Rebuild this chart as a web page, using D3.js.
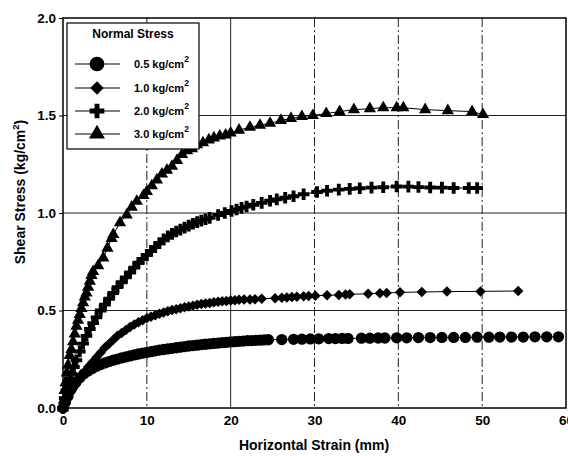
<!DOCTYPE html>
<html>
<head>
<meta charset="utf-8">
<script src="https://cdn.jsdelivr.net/npm/d3@7"></script>
<style>
  body { margin: 0; background: #fff; }
  svg text { font-family: "Liberation Sans", Arial, sans-serif; font-weight: bold; fill: #000; }
</style>
</head>
<body>
<div id="chart"></div>
<script>
// normal stress levels (legend)
var labels = ["0.5", "1.0", "2.0", "3.0"];
var xTicks = [0, 10, 20, 30, 40, 50, 60];
var yTicks = [0, 0.5, 1.0, 1.5, 2.0];

// [horizontal strain (mm), shear stress (kg/cm2)]
var s05 = [[0,0],[0.3,0.03],[0.6,0.06],[1,0.1],[1.5,0.13],[2,0.155],[2.5,0.175],[3,0.19],[3.5,0.203],[4,0.214],
  [4.5,0.223],[5,0.231],[5.5,0.238],[6,0.245],[6.5,0.251],[7,0.257],[7.5,0.262],[8,0.267],[8.5,0.272],[9,0.277],
  [9.5,0.281],[10,0.285],[10.5,0.289],[11,0.293],[11.5,0.297],[12,0.3],[12.5,0.303],[13,0.306],[13.5,0.309],[14,0.312],
  [14.5,0.315],[15,0.318],[15.5,0.32],[16,0.322],[16.5,0.325],[17,0.327],[17.5,0.329],[18,0.331],[18.5,0.333],[19,0.335],
  [19.5,0.337],[20,0.339],[20.5,0.34],[21,0.342],[21.5,0.343],[22,0.345],[22.5,0.346],[23,0.347],[23.5,0.348],[24,0.349],
  [24.5,0.35],[26.1,0.351],[27.5,0.352],[28.5,0.353],[29.5,0.354],[30.5,0.355],[31.7,0.356],[32.5,0.356],[33.3,0.357],
  [34,0.357],[35.6,0.358],[36.6,0.358],[37.6,0.359],[38.4,0.359],[39.8,0.36],[41,0.36],[42.4,0.361],[43.8,0.361],
  [45.2,0.362],[46.6,0.362],[48,0.362],[49.4,0.363],[50.8,0.363],[52.1,0.364],[53.5,0.364],[54.9,0.364],[56.3,0.365],
  [57.7,0.365],[59.1,0.365]];

var s10 = [[0,0],[0.3,0.03],[0.6,0.055],[0.9,0.08],[1.2,0.1],[1.6,0.125],[2,0.15],[2.5,0.18],[3,0.21],[3.5,0.235],
  [4,0.26],[4.5,0.285],[5,0.31],[5.5,0.33],[6,0.35],[6.5,0.37],[7,0.385],[7.5,0.4],[8,0.415],[8.5,0.428],[9,0.44],
  [9.5,0.45],[10,0.46],[10.5,0.468],[11,0.476],[11.5,0.483],[12,0.49],[12.5,0.496],[13,0.502],[13.5,0.507],[14,0.512],
  [14.5,0.517],[15,0.521],[15.5,0.525],[16,0.529],[16.5,0.533],[17,0.536],[17.5,0.539],[18,0.542],[18.5,0.545],
  [19,0.547],[19.5,0.549],[20,0.551],[20.5,0.553],[21,0.555],[21.6,0.556],[22.3,0.557],[22.9,0.558],[23.7,0.56],
  [25.3,0.563],[26.1,0.565],[26.7,0.567],[27.3,0.569],[27.9,0.571],[28.7,0.573],[29.3,0.574],[30.1,0.576],[31.5,0.578],
  [32.9,0.58],[33.7,0.582],[34.2,0.583],[36.4,0.586],[37.8,0.588],[38.6,0.59],[40.2,0.593],[42.8,0.595],[45.8,0.597],
  [49.8,0.598],[54.3,0.6]];

var s20 = [[0,0],[0.2,0.05],[0.4,0.09],[0.6,0.12],[0.8,0.15],[1,0.175],[1.3,0.21],[1.6,0.245],[2,0.29],[2.4,0.33],
  [2.8,0.37],[3.2,0.405],[3.6,0.435],[4,0.465],[4.5,0.5],[5,0.53],[5.5,0.56],[6,0.59],[6.5,0.62],[7,0.645],[7.5,0.67],
  [8,0.695],[8.5,0.72],[9,0.745],[9.5,0.765],[10,0.785],[10.5,0.805],[11,0.825],[11.5,0.845],[12,0.865],[12.5,0.88],
  [13,0.893],[13.5,0.905],[14,0.915],[14.5,0.925],[15,0.935],[15.5,0.945],[16,0.953],[16.5,0.961],[17,0.968],
  [17.5,0.975],[18.5,0.99],[19.3,1.0],[20.1,1.01],[20.7,1.018],[21.3,1.026],[21.9,1.033],[22.7,1.042],[23.7,1.052],
  [24.7,1.063],[25.5,1.07],[26.5,1.078],[27.5,1.086],[28.7,1.096],[30.3,1.108],[31.5,1.114],[32.9,1.12],[34.2,1.124],
  [35.4,1.127],[36.8,1.13],[38.2,1.132],[39.8,1.136],[41.2,1.135],[42.4,1.133],[43.8,1.131],[45.2,1.13],[46.6,1.128],
  [48.4,1.128],[49.4,1.128]];

var s30 = [[0,0],[0.1,0.04],[0.2,0.09],[0.3,0.13],[0.45,0.18],[0.6,0.22],[0.8,0.27],[1,0.3],[1.2,0.34],[1.4,0.38],
  [1.6,0.42],[1.8,0.45],[2,0.48],[2.2,0.51],[2.4,0.54],[2.6,0.57],[2.8,0.59],[3,0.62],[3.2,0.65],[3.4,0.68],[3.6,0.7],
  [4.2,0.73],[4.8,0.77],[5.3,0.82],[5.8,0.87],[6,0.89],[6.8,0.95],[7.6,0.99],[8.2,1.03],[8.8,1.06],[9.6,1.09],[10,1.11],
  [10.6,1.14],[11.2,1.17],[11.8,1.2],[12.4,1.22],[13,1.24],[13.6,1.27],[14.2,1.3],[14.8,1.32],[15.4,1.33],[16,1.35],
  [16.7,1.36],[17.4,1.375],[18,1.385],[18.7,1.395],[19.4,1.4],[20,1.41],[21,1.425],[22.3,1.44],[23.5,1.45],[24.7,1.46],
  [26,1.475],[27.2,1.485],[28.5,1.495],[29.8,1.5],[31.4,1.51],[33,1.52],[34.7,1.53],[36.6,1.535],[38.2,1.54],
  [39.8,1.54],[40.6,1.54],[43.2,1.53],[45.9,1.525],[48.8,1.52],[50.1,1.505]];

var series = [s05, s10, s20, s30];
// diamond = square turned 45 degrees
var shapes = [d3.symbolCircle, d3.symbolSquare, d3.symbolCross, d3.symbolTriangle];
var turns = [0, 45, 0, 0];
var sizes = [100, 55, 75, 65];
var legendSizes = [170, 90, 120, 110];

var width = 568, height = 456;
var svg = d3.select("#chart").append("svg")
    .attr("width", width)
    .attr("height", height);

var x = d3.scaleLinear().domain([0, 60]).range([63, 566]);
var y = d3.scaleLinear().domain([0, 2]).range([408, 18]);

// grid
svg.append("g").selectAll("line")
    .data([10, 20, 30, 40, 50])
    .enter().append("line")
    .attr("x1", function(d) { return x(d); })
    .attr("x2", function(d) { return x(d); })
    .attr("y1", y(2)).attr("y2", y(0))
    .attr("stroke", "#222")
    .attr("stroke-width", 1)
    .attr("stroke-dasharray", function(d) { return d == 20 ? null : "9,3,2,3"; });

svg.append("g").selectAll("line")
    .data([0.5, 1.0, 1.5])
    .enter().append("line")
    .attr("x1", x(0)).attr("x2", x(60))
    .attr("y1", function(d) { return y(d); })
    .attr("y2", function(d) { return y(d); })
    .attr("stroke", "#222")
    .attr("stroke-width", 1);

// axes
var xAxis = svg.append("g")
    .attr("transform", "translate(0," + y(0) + ")")
    .call(d3.axisBottom(x).tickValues(xTicks).tickSize(0).tickPadding(7));
var yAxis = svg.append("g")
    .attr("transform", "translate(" + x(0) + ",0)")
    .call(d3.axisLeft(y).tickValues(yTicks).tickSize(4).tickPadding(3).tickFormat(d3.format(".1f")));
[xAxis, yAxis].forEach(function(a) {
    a.select(".domain").remove();
    a.selectAll("text").style("font-size", "13.5px");
    a.selectAll("line").attr("stroke", "#000");
});

// frame
svg.append("rect")
    .attr("x", x(0)).attr("y", y(2))
    .attr("width", x(60) - x(0)).attr("height", y(0) - y(2))
    .attr("fill", "none")
    .attr("stroke", "#000")
    .attr("stroke-width", 1.5);

// series
var line = d3.line()
    .x(function(d) { return x(d[0]); })
    .y(function(d) { return y(d[1]); });

series.forEach(function(s, i) {
    svg.append("path")
        .datum(s)
        .attr("d", line)
        .attr("fill", "none")
        .attr("stroke", "#000")
        .attr("stroke-width", 1);
    svg.append("g").selectAll("path")
        .data(s)
        .enter().append("path")
        .attr("transform", function(d) {
            return "translate(" + x(d[0]) + "," + y(d[1]) + ") rotate(" + turns[i] + ")";
        })
        .attr("d", d3.symbol().type(shapes[i]).size(sizes[i]))
        .attr("fill", "#000");
});

// legend
var lg = svg.append("g");
lg.append("rect")
    .attr("x", 67).attr("y", 23)
    .attr("width", 132).attr("height", 126)
    .attr("fill", "#fff")
    .attr("stroke", "#000")
    .attr("stroke-width", 1.2);
lg.append("text")
    .attr("x", 133).attr("y", 38)
    .attr("text-anchor", "middle")
    .style("font-size", "12px")
    .text("Normal Stress");

var rows = [64, 88, 111, 134];
labels.forEach(function(l, i) {
    lg.append("line")
        .attr("x1", 75).attr("x2", 120)
        .attr("y1", rows[i]).attr("y2", rows[i])
        .attr("stroke", "#000").attr("stroke-width", 1);
    lg.append("path")
        .attr("transform", "translate(97," + rows[i] + ") rotate(" + turns[i] + ")")
        .attr("d", d3.symbol().type(shapes[i]).size(legendSizes[i]))
        .attr("fill", "#000");
    var t = lg.append("text")
        .attr("x", 134).attr("y", rows[i] + 4)
        .style("font-size", "11px");
    t.append("tspan").text(l + " kg/cm");
    t.append("tspan").attr("dy", -6).style("font-size", "8.5px").text("2");
});

// axis titles
svg.append("text")
    .attr("x", 314).attr("y", 450)
    .attr("text-anchor", "middle")
    .style("font-size", "14px")
    .text("Horizontal Strain (mm)");

var yt = svg.append("text")
    .attr("transform", "translate(25,192) rotate(-90)")
    .attr("text-anchor", "middle")
    .style("font-size", "14px");
yt.append("tspan").text("Shear Stress (kg/cm");
yt.append("tspan").attr("dy", -6).style("font-size", "9.5px").text("2");
yt.append("tspan").attr("dy", 6).text(")");
</script>
</body>
</html>
